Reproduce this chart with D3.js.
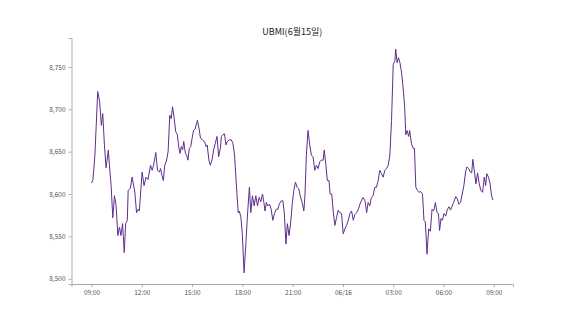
<!DOCTYPE html>
<html><head><meta charset="utf-8">
<script src="https://cdn.jsdelivr.net/npm/d3@7"></script>
<style>body{margin:0;background:#fff;}svg{display:block;}</style>
</head><body>
<svg id="chart" width="570" height="320"></svg>
<script>
const title = "UBMI(6월15일)";
const startTime = "2023-06-15T09:00:00";
// minutes elapsed since 06/15 09:00
const minutes = [0,5,12,22,29,35,40,46,52,60,64,70,76,82,88,94,100,105,111,117,122,128,131,139,145,155,161,167,171,181,188,195,202,211,217,222,230,236,243,247,252,257,262,268,274,280,
285,290,296,301,307,312,317,321,326,330,336,340,345,350,355,360,365,371,379,385,390,397,404,410,414,420,425,431,437,443,449,455,461,465,470,476,481,486,493,500,506,512,517,521,525,529,535,540,546,552,558,565,570,576,582,588,594,600,606,612,617,621,626,631,637,643,649,655,661,667,672,679,685,690,696,701,707,713,719,724,730,736,742,747,754,760,764,769,775,781,787,793,799,805,811,817,822,829,833,839,844,850,
854,860,865,871,877,883,889,895,901,907,913,919,925,931,937,943,949,955,961,967,972,979,985,990,996,1002,1008,1014,1020,1026,1032,1038,1044,1050,1056,1062,1068,1074,1080,1086,1089,1094,1099,1104,1110,1115,1121,1125,1130,1135,1139,1145,1151,1156,1161,1167,1172,1178,1185,1190,1195,1201,1207,1213,1219,1225,1231,1237,1242,1246,1251,1256,1262,1268,1274,1280,1285,1290,1296,1304,1310,1315,1321,1327,1333,1339,1344,1350,1356,1361,1365,1371,1376,1382,1388,1394,1400,1406,1411,1415,1421,1427,1432,1437];
const values = [8613,8617,8646,8721,8709,8681,8695,8658,8631,8652,8634,8610,8572,8598,8586,8551,8561,8551,8565,8531,8565,8569,8604,8607,8620,8602,8578,8582,8580,8626,8610,8620,8617,8634,8628,8634,8649,8628,8626,8630,8622,8616,8634,8639,8650,8693,
8689,8703,8689,8674,8670,8656,8648,8656,8652,8662,8648,8646,8640,8654,8656,8666,8675,8677,8687,8677,8666,8664,8662,8656,8658,8640,8634,8640,8652,8660,8668,8644,8654,8668,8670,8671,8658,8662,8664,8664,8660,8646,8618,8598,8578,8580,8572,8551,8507,8539,8574,8608,8578,8598,8586,8598,8586,8596,8591,8600,8590,8580,8590,8586,8588,8582,8569,8577,8582,8582,8588,8592,8592,8578,8541,8565,8551,8567,8590,8604,8614,8608,8606,8598,8590,8580,8598,8646,8675,8658,8646,8644,8628,8634,8630,8638,8640,8640,8652,8634,8616,8616,
8600,8600,8580,8563,8572,8581,8578,8577,8553,8559,8563,8569,8577,8580,8569,8576,8578,8582,8588,8593,8596,8592,8578,8590,8586,8596,8598,8608,8608,8616,8628,8624,8620,8628,8630,8634,8646,8687,8753,8757,8771,8755,8761,8755,8743,8727,8703,8670,8675,8668,8675,8660,8654,8654,8608,8604,8602,8603,8600,8569,8567,8529,8559,8556,8582,8580,8590,8578,8577,8557,8571,8569,8577,8574,8582,8585,8581,8585,8590,8597,8594,8588,8590,8600,8610,8626,8632,8630,8626,8625,8641,8626,8612,8625,8612,8604,8602,8620,8610,8624,8620,8612,8598,8593];
const yTicks = [8500,8550,8600,8650,8700,8750];

const base = new Date(startTime);
const data = minutes.map((m,i)=>({t:new Date(base.getTime()+m*60000), v:values[i]}));

const svg = d3.select("#chart");
const m = {left:71.5, right:57, top:38, bottom:36};
const W = 570, H = 320;

const tExt = d3.extent(data, d=>d.t);
const tPad = (tExt[1]-tExt[0])*0.05;
const x = d3.scaleTime()
  .domain([new Date(tExt[0].getTime()-tPad), new Date(tExt[1].getTime()+tPad)])
  .range([m.left, W-m.right]);
const vExt = d3.extent(values);
const vPad = (vExt[1]-vExt[0])*0.05;
const y = d3.scaleLinear()
  .domain([vExt[0]-vPad, vExt[1]+vPad])
  .range([H-m.bottom, m.top]);

const fmtHM = d3.timeFormat("%H:%M"), fmtMD = d3.timeFormat("%m/%d");
const xTicks = d3.timeHour.every(3).range(tExt[0], new Date(tExt[1].getTime()+tPad));

const xAxis = svg.append("g").attr("transform",`translate(0,${H-m.bottom})`)
  .call(d3.axisBottom(x).tickValues(xTicks).tickSize(3).tickPadding(3)
    .tickFormat(d=> d.getHours()===0 ? fmtMD(d) : fmtHM(d)));
const yAxis = svg.append("g").attr("transform",`translate(${m.left},0)`)
  .call(d3.axisLeft(y).tickValues(yTicks).tickSize(3).tickPadding(3)
    .tickFormat(d3.format(",")));
[xAxis,yAxis].forEach(g=>{
  g.select(".domain").attr("stroke","#999").attr("stroke-width",0.8);
  g.selectAll(".tick line").attr("stroke","#999").attr("stroke-width",0.8);
  g.selectAll(".tick text").attr("fill","#555").attr("font-size","6.5px")
    .attr("font-family","'Noto Sans CJK KR', 'Noto Sans', sans-serif");
});

svg.append("path").datum(data)
  .attr("fill","none").attr("stroke","#5f2d8c").attr("stroke-width",1)
  .attr("stroke-linejoin","round")
  .attr("d", d3.line().x(d=>x(d.t)).y(d=>y(d.v)));

svg.append("text").attr("x",(m.left+W-m.right)/2).attr("y",35)
  .attr("text-anchor","middle").attr("font-size","9px").attr("fill","#222")
  .attr("font-family","'Noto Sans CJK KR', sans-serif").text(title);
</script>
</body></html>
